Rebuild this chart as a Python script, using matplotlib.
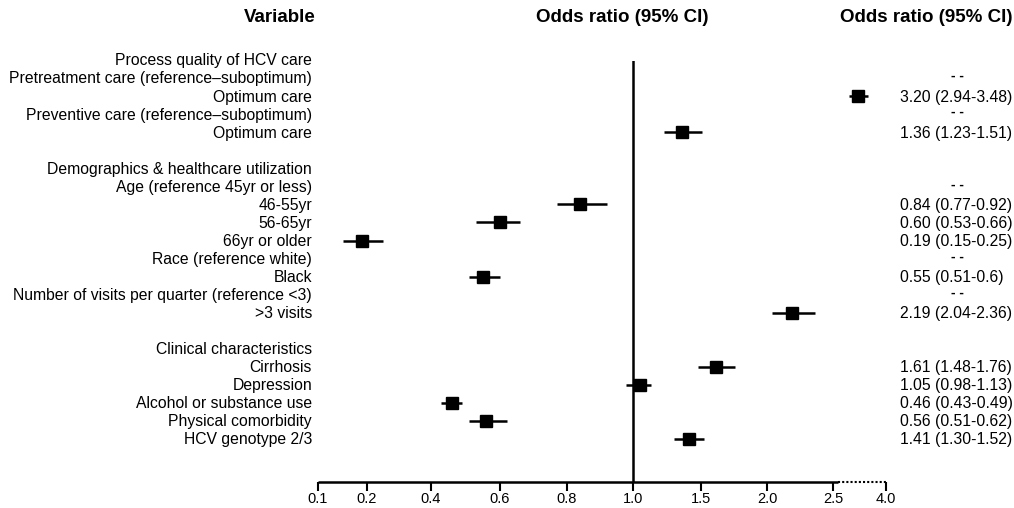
import numpy as np
import matplotlib
matplotlib.use("Agg")
import matplotlib.pyplot as plt
from matplotlib.transforms import blended_transform_factory

plt.rcParams['font.family'] = ['Liberation Sans', 'DejaVu Sans']

labels = [
    "Process quality of HCV care",
    "Pretreatment care (reference\u2013suboptimum)",
    "Optimum care",
    "Preventive care (reference\u2013suboptimum)",
    "Optimum care",
    "",
    "Demographics & healthcare utilization",
    "Age (reference 45yr or less)",
    "46-55yr",
    "56-65yr",
    "66yr or older",
    "Race (reference white)",
    "Black",
    "Number of visits per quarter (reference <3)",
    ">3 visits",
    "",
    "Clinical characteristics",
    "Cirrhosis",
    "Depression",
    "Alcohol or substance use",
    "Physical comorbidity",
    "HCV genotype 2/3",
]

# rows with an estimate, and the rows marked as reference ("--")
est_rows = [2, 4, 8, 9, 10, 12, 14, 17, 18, 19, 20, 21]
odds = [3.20, 1.36, 0.84, 0.60, 0.19, 0.55, 2.19, 1.61, 1.05, 0.46, 0.56, 1.41]
lower = [2.94, 1.23, 0.77, 0.53, 0.15, 0.51, 2.04, 1.48, 0.98, 0.43, 0.51, 1.30]
upper = [3.48, 1.51, 0.92, 0.66, 0.25, 0.60, 2.36, 1.76, 1.13, 0.49, 0.62, 1.52]
ci_text = ["3.20 (2.94-3.48)", "1.36 (1.23-1.51)", "0.84 (0.77-0.92)",
           "0.60 (0.53-0.66)", "0.19 (0.15-0.25)", "0.55 (0.51-0.6)",
           "2.19 (2.04-2.36)", "1.61 (1.48-1.76)", "1.05 (0.98-1.13)",
           "0.46 (0.43-0.49)", "0.56 (0.51-0.62)", "1.41 (1.30-1.52)"]
ref_rows = [1, 3, 7, 11, 13]

tick_vals = [0.1, 0.2, 0.4, 0.6, 0.8, 1.0, 1.5, 2.0, 2.5, 4.0]
tick_labels = ["0.1", "0.2", "0.4", "0.6", "0.8", "1.0", "1.5", "2.0", "2.5", "4.0"]
# uneven axis as drawn in the original: relative positions of the ticks
tick_pos = [318, 367, 431, 500, 567, 633, 701, 767, 833, 886]


def fwd(x):
    return np.interp(x, tick_vals, tick_pos)


def inv(p):
    return np.interp(p, tick_pos, tick_vals)


W, H = 1014, 508
fig = plt.figure(figsize=(W / 100, H / 100), dpi=100)
ax = fig.add_axes([318 / W, 1 - 482 / H, (886 - 318) / W, (482 - 61) / H])
ax.set_xscale('function', functions=(fwd, inv))
ax.set_xlim(0.1, 4.0)
row0, rowstep = 60, 18.05
ax.set_ylim((482 - row0) / rowstep, (61 - row0) / rowstep)

for s in ax.spines.values():
    s.set_visible(False)
ax.set_yticks([])
ax.set_xticks(tick_vals)
ax.set_xticklabels(tick_labels, fontsize=10.5)
ax.tick_params(axis='x', direction='out', length=6.5, width=1.5, pad=1)

ybot = ax.get_ylim()[0]
ax.plot([0.1, 2.64], [ybot, ybot], color='black', lw=1.8, clip_on=False,
        solid_capstyle='butt')
ax.plot([2.64, 4.0], [ybot, ybot], color='black', lw=1.5, ls=(0, (1, 1)),
        clip_on=False)
ax.axvline(1.0, color='black', lw=1.8)

ax.hlines(est_rows, lower, upper, color='black', lw=1.8)
ax.plot(odds, est_rows, 's', color='black', markersize=9)

tr = blended_transform_factory(fig.transFigure, ax.transData)
for i, lab in enumerate(labels):
    ax.text(312 / W, i + 0.05, lab, transform=tr, ha='right', va='center',
            fontsize=11.3)
for r, t in zip(est_rows, ci_text):
    ax.text(900 / W, r + 0.05, t, transform=tr, ha='left', va='center',
            fontsize=11.3)
for r in ref_rows:
    ax.text(957 / W, r - 0.1, "- -", transform=tr, ha='center', va='center',
            fontsize=10, fontweight='bold')

hfont = dict(family=['Liberation Sans', 'DejaVu Sans'],
             fontweight='bold', fontsize=13.5, va='center')
fig.text(316 / W, 1 - 18 / H, "Variable", ha='right', **hfont)
fig.text(622 / W, 1 - 18 / H, "Odds ratio (95% CI)", ha='center', **hfont)
fig.text(1012 / W, 1 - 18 / H, "Odds ratio (95% CI)", ha='right', **hfont)

fig.savefig("out.png", dpi=100)
